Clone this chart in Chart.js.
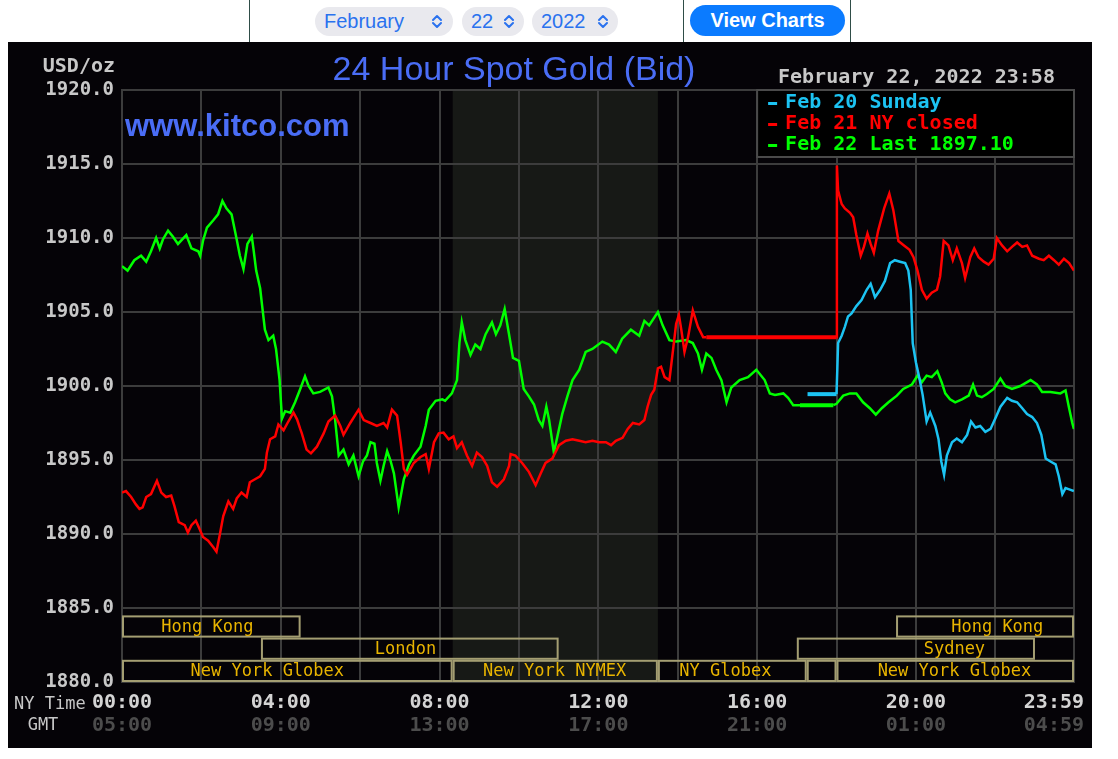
<!DOCTYPE html>
<html>
<head>
<meta charset="utf-8">
<script src="https://cdn.jsdelivr.net/npm/chart.js@4.4.1/dist/chart.umd.min.js"></script>
<style>
  body { margin: 0; background: #fff; width: 1118px; height: 759px; position: relative; overflow: hidden;
         font-family: 'Liberation Sans', Arial, sans-serif; }
  .frame { position: absolute; left: 249px; top: 0; width: 600px; height: 42px;
           border-left: 1px solid #2f4d47; border-right: 1px solid #2f4d47; }
  .divider { position: absolute; left: 683px; top: 0; width: 1px; height: 42px; background: #2f4d47; }
  .pill { position: absolute; top: 7px; height: 29px; border-radius: 15px; background: #e9e9ee;
          color: #2a72ee; font-size: 20px; line-height: 29px; }
  .pill span { position: absolute; left: 9px; top: 0; }
  .pill svg { position: absolute; top: 7px; }
  .btn { position: absolute; left: 690px; top: 5px; width: 155px; height: 31px; border-radius: 16px;
         background: #0b7bff; color: #fff; font-weight: bold; font-size: 20px; line-height: 31px; text-align: center; }
  #wrap { position: absolute; left: 8px; top: 42px; width: 1084px; height: 706px; background: #050307; }
</style>
</head>
<body>
<div class="frame"></div>
<div class="divider"></div>
<div class="pill" style="left:315px;width:138px"><span>February</span>
  <svg style="left:116px" width="12" height="15" viewBox="0 0 12 15"><polyline points="2,6 6,2 10,6" fill="none" stroke="#2a72ee" stroke-width="2" stroke-linecap="round" stroke-linejoin="round"/><polyline points="2,9 6,13 10,9" fill="none" stroke="#2a72ee" stroke-width="2" stroke-linecap="round" stroke-linejoin="round"/></svg></div>
<div class="pill" style="left:462px;width:62px"><span>22</span>
  <svg style="left:41px" width="12" height="15" viewBox="0 0 12 15"><polyline points="2,6 6,2 10,6" fill="none" stroke="#2a72ee" stroke-width="2" stroke-linecap="round" stroke-linejoin="round"/><polyline points="2,9 6,13 10,9" fill="none" stroke="#2a72ee" stroke-width="2" stroke-linecap="round" stroke-linejoin="round"/></svg></div>
<div class="pill" style="left:532px;width:86px"><span>2022</span>
  <svg style="left:65px" width="12" height="15" viewBox="0 0 12 15"><polyline points="2,6 6,2 10,6" fill="none" stroke="#2a72ee" stroke-width="2" stroke-linecap="round" stroke-linejoin="round"/><polyline points="2,9 6,13 10,9" fill="none" stroke="#2a72ee" stroke-width="2" stroke-linecap="round" stroke-linejoin="round"/></svg></div>
<div class="btn">View Charts</div>

<div id="wrap"><canvas id="chart" width="1084" height="706"></canvas></div>

<script>
// hours after midnight NY time -> bid price
const feb22Hours = [0, 0.14, 0.31, 0.48, 0.61, 0.73, 0.86, 0.95, 1.03, 1.16, 1.28, 1.41, 1.62, 1.75, 1.92, 1.97,
  2.04, 2.14, 2.30, 2.42, 2.53, 2.63, 2.76, 2.89, 2.97, 3.06, 3.16, 3.27, 3.31, 3.38, 3.48, 3.54, 3.60, 3.69, 3.81,
  3.88, 3.97, 4.03, 4.11, 4.24, 4.36, 4.49, 4.61, 4.70, 4.82, 4.99, 5.20, 5.29, 5.37, 5.46, 5.58, 5.71, 5.83, 5.96,
  6.07, 6.17, 6.26, 6.36, 6.42, 6.51, 6.59, 6.68, 6.76, 6.85, 6.97, 7.10, 7.23, 7.35, 7.52, 7.65, 7.73, 7.90, 8.07,
  8.14, 8.31, 8.44, 8.50, 8.56, 8.65, 8.78, 8.90, 9.03, 9.16, 9.32, 9.42, 9.53, 9.64, 9.75, 9.85, 10.0, 10.12, 10.25,
  10.38, 10.5, 10.59, 10.69, 10.76, 10.88, 10.97, 11.09, 11.22, 11.35, 11.52, 11.68, 11.85, 12.1, 12.27, 12.44, 12.6,
  12.82, 13.03, 13.16, 13.28, 13.5, 13.62, 13.79, 13.96, 14.21, 14.38, 14.51, 14.61, 14.72, 14.85, 14.97, 15.1, 15.23,
  15.35, 15.56, 15.77, 15.98, 16.19, 16.32, 16.45, 16.66, 16.78, 16.91, 17.08, 17.92, 18.0, 18.17, 18.34, 18.5, 18.67,
  18.84, 18.99, 19.14, 19.31, 19.52, 19.68, 19.9, 20.04, 20.15, 20.27, 20.4, 20.54, 20.65, 20.74, 20.86, 20.99, 21.16,
  21.33, 21.44, 21.54, 21.66, 21.79, 21.96, 22.13, 22.25, 22.42, 22.63, 22.89, 23.05, 23.18, 23.39, 23.64, 23.77,
  23.86, 23.94, 23.98];
const feb22Bid = [1908.1, 1907.8, 1908.5, 1908.8, 1908.4, 1909.1, 1910.0, 1909.3, 1909.9, 1910.5, 1910.1, 1909.6,
  1910.2, 1909.3, 1909.1, 1908.8, 1909.8, 1910.7, 1911.2, 1911.6, 1912.5, 1912.0, 1911.6, 1909.9, 1908.8, 1907.9,
  1909.6, 1910.1, 1909.3, 1907.8, 1906.6, 1905.2, 1903.8, 1903.1, 1903.4, 1902.5, 1900.4, 1897.8, 1898.3, 1898.2,
  1898.9, 1899.8, 1900.65, 1900.0, 1899.5, 1899.6, 1899.9, 1899.3, 1897.7, 1895.3, 1895.7, 1894.7, 1895.3, 1893.9,
  1894.9, 1895.3, 1896.2, 1896.1, 1894.8, 1893.6, 1894.6, 1895.6, 1895.0, 1894.1, 1891.8, 1893.7, 1894.7, 1895.3,
  1895.9, 1897.3, 1898.4, 1899.0, 1899.1, 1899.0, 1899.5, 1900.4, 1902.9, 1904.3, 1903.1, 1902.1, 1902.8, 1902.5,
  1903.5, 1904.3, 1903.5, 1904.1, 1905.2, 1903.5, 1901.9, 1901.7, 1899.8, 1899.3, 1898.75, 1897.7, 1897.3, 1898.6,
  1897.7, 1895.5, 1896.6, 1898.1, 1899.3, 1900.4, 1901.1, 1902.3, 1902.5, 1903.0, 1902.8, 1902.3, 1903.2, 1903.8,
  1903.4, 1904.4, 1904.1, 1905.0, 1904.1, 1903.1, 1903.0, 1903.1, 1902.9, 1902.2, 1901.1, 1902.2, 1901.9, 1901.1,
  1900.4, 1898.9, 1899.9, 1900.4, 1900.6, 1901.1, 1900.4, 1899.5, 1899.4, 1899.5, 1899.2, 1898.7, 1898.7, 1898.7,
  1898.8, 1899.35, 1899.5, 1899.5, 1898.9, 1898.5, 1898.06, 1898.5, 1898.9, 1899.35, 1899.8, 1900.1, 1900.7, 1900.25,
  1900.7, 1900.6, 1901.0, 1900.25, 1899.5, 1899.1, 1898.9, 1899.1, 1899.35, 1900.1, 1899.35, 1899.24, 1899.46, 1899.8,
  1900.5, 1900.0, 1899.8, 1900.0, 1900.4, 1900.1, 1899.6, 1899.6, 1899.5, 1899.7, 1898.5, 1897.5, 1897.1];

const feb21Hours = [0, 0.1, 0.23, 0.35, 0.44, 0.52, 0.61, 0.73, 0.88, 0.99, 1.11, 1.24, 1.32, 1.43, 1.58, 1.66, 1.75,
  1.86, 1.96, 2.04, 2.17, 2.30, 2.38, 2.46, 2.55, 2.68, 2.80, 2.89, 3.01, 3.14, 3.22, 3.35, 3.48, 3.60, 3.65, 3.73,
  3.86, 3.94, 4.07, 4.19, 4.32, 4.41, 4.49, 4.53, 4.65, 4.76, 4.91, 5.08, 5.20, 5.37, 5.50, 5.58, 5.75, 5.96, 6.09,
  6.26, 6.42, 6.59, 6.68, 6.80, 6.93, 7.02, 7.10, 7.18, 7.35, 7.52, 7.65, 7.73, 7.86, 7.98, 8.10, 8.23, 8.35, 8.44,
  8.56, 8.69, 8.82, 8.94, 9.07, 9.20, 9.32, 9.45, 9.62, 9.75, 9.79, 9.91, 10.08, 10.25, 10.42, 10.55, 10.67, 10.84,
  11.01, 11.18, 11.35, 11.52, 11.68, 11.85, 12.02, 12.19, 12.32, 12.44, 12.61, 12.74, 12.87, 13.03, 13.16, 13.24,
  13.33, 13.41, 13.50, 13.58, 13.67, 13.79, 13.88, 13.96, 14.03, 14.09, 14.17, 14.26, 14.38, 14.51, 14.64, 14.72,
  18.0, 18.01, 18.04, 18.13, 18.21, 18.34, 18.42, 18.5, 18.61, 18.69, 18.78, 18.86, 18.94, 19.05, 19.2, 19.33, 19.43,
  19.56, 19.7, 19.84, 19.94, 20.04, 20.15, 20.27, 20.4, 20.53, 20.61, 20.7, 20.82, 20.93, 21.03, 21.16, 21.24, 21.37,
  21.47, 21.58, 21.71, 21.83, 21.96, 22.04, 22.17, 22.3, 22.42, 22.55, 22.68, 22.8, 22.93, 23.1, 23.22, 23.35, 23.48,
  23.6, 23.73, 23.86, 23.98];
const feb21Bid = [1892.8, 1892.9, 1892.5, 1892.0, 1891.7, 1891.8, 1892.5, 1892.7, 1893.6, 1892.8, 1892.5, 1892.6,
  1891.9, 1890.8, 1890.6, 1890.1, 1890.6, 1890.9, 1890.3, 1889.8, 1889.55, 1889.1, 1888.8, 1889.9, 1891.2, 1892.2,
  1891.7, 1892.4, 1892.8, 1892.5, 1893.5, 1893.7, 1893.9, 1894.4, 1895.5, 1896.4, 1896.6, 1897.4, 1897.0, 1897.6,
  1898.2, 1897.75, 1897.1, 1896.8, 1895.7, 1895.45, 1895.9, 1896.8, 1897.6, 1898.0, 1897.3, 1896.7, 1897.5, 1898.4,
  1897.7, 1897.5, 1897.3, 1897.5, 1897.2, 1898.4, 1898.0, 1896.2, 1894.4, 1894.0, 1894.8, 1895.2, 1895.4, 1894.4,
  1896.2, 1896.8, 1896.85, 1896.4, 1896.6, 1895.8, 1896.2, 1895.3, 1894.6, 1895.5, 1895.2, 1894.6, 1893.5, 1893.2,
  1893.7, 1894.6, 1895.4, 1895.3, 1894.8, 1894.2, 1893.3, 1894.1, 1894.8, 1895.1, 1896.0, 1896.3, 1896.4, 1896.3,
  1896.2, 1896.3, 1896.2, 1896.2, 1896.0, 1896.3, 1896.5, 1897.1, 1897.5, 1897.4, 1897.7, 1898.6, 1899.4, 1899.75,
  1901.2, 1901.3, 1900.6, 1900.4, 1902.4, 1904.2, 1904.8, 1903.8, 1902.3, 1903.3, 1905.1, 1904.0, 1903.3, 1903.3,
  1903.3, 1914.9, 1913.2, 1912.3, 1912.0, 1911.7, 1911.4, 1910.2, 1908.8, 1909.4, 1910.3, 1909.6, 1909.0, 1910.5,
  1912.0, 1913.0, 1911.9, 1909.8, 1909.5, 1909.2, 1908.7, 1907.8, 1906.5, 1905.9, 1906.3, 1906.5, 1907.4, 1909.8,
  1909.5, 1908.5, 1909.3, 1908.3, 1907.3, 1908.7, 1909.3, 1908.7, 1908.4, 1908.2, 1908.6, 1910.0, 1909.5, 1909.1,
  1909.4, 1909.7, 1909.4, 1909.5, 1908.8, 1908.6, 1908.5, 1908.8, 1908.5, 1908.2, 1908.6, 1908.3, 1907.8];

const feb20Hours = [17.27, 18.0, 18.02, 18.04, 18.13, 18.21, 18.29, 18.38, 18.5, 18.63, 18.76, 18.86, 18.97, 19.1,
  19.22, 19.35, 19.47, 19.6, 19.73, 19.81, 19.87, 19.92, 20.0, 20.09, 20.17, 20.27, 20.36, 20.49, 20.57, 20.64, 20.71,
  20.78, 20.91, 21.03, 21.16, 21.29, 21.39, 21.5, 21.62, 21.75, 21.88, 22.0, 22.13, 22.3, 22.42, 22.55, 22.68, 22.8,
  22.93, 23.05, 23.16, 23.27, 23.39, 23.52, 23.6, 23.69, 23.77, 23.88, 23.98];
const feb20Bid = [1899.45, 1899.45, 1901.1, 1902.9, 1903.4, 1904.0, 1904.7, 1904.9, 1905.4, 1905.8, 1906.5, 1906.9,
  1906.0, 1906.5, 1907.1, 1908.3, 1908.5, 1908.4, 1908.3, 1907.8, 1906.5, 1902.9, 1901.6, 1900.5, 1899.4, 1897.6,
  1898.2, 1897.3, 1896.4, 1894.9, 1894.0, 1895.3, 1896.2, 1896.45, 1896.2, 1896.7, 1897.6, 1897.2, 1897.3, 1896.9,
  1897.1, 1897.8, 1898.6, 1899.2, 1899.0, 1898.9, 1898.5, 1898.1, 1897.9, 1897.5, 1896.7, 1895.1, 1894.9, 1894.7,
  1893.9, 1892.7, 1893.1, 1893.0, 1892.9];

const seriesLabels = ['Feb 20 Sunday', 'Feb 21 NY closed', 'Feb 22 Last 1897.10'];
const seriesColors = ['#1cc3f2', '#ff0000', '#00ff00'];

const yTicks = [1880, 1885, 1890, 1895, 1900, 1905, 1910, 1915, 1920];
const gridHours = [0, 2, 4, 6, 8, 10, 12, 14, 16, 18, 20, 22, 23.983];
const labelHours = [0, 4, 8, 12, 16, 20, 23.983];
const nyLabels = ['00:00', '04:00', '08:00', '12:00', '16:00', '20:00', '23:59'];
const gmtLabels = ['05:00', '09:00', '13:00', '17:00', '21:00', '01:00', '04:59'];

// trading sessions drawn as boxes under the lines
const sessionNames = ['Hong Kong', 'Hong Kong', 'London', 'Sydney', 'New York Globex', 'New York NYMEX', 'NY Globex', '', 'New York Globex'];
const sessionRows = [0, 0, 1, 1, 2, 2, 2, 2, 2];
const sessionStart = [0, 19.5, 3.5, 17.0, 0, 8.33, 13.5, 17.25, 18.0];
const sessionEnd = [4.5, 23.983, 11.0, 23.0, 8.33, 13.5, 17.25, 18.0, 23.983];
const sessionLabelAt = [2.15, 22.05, 7.14, 20.97, 3.66, 10.9, 15.2, 0, 20.97];
const rowTops = [1884.5, 1883.0, 1881.5];
const nymexHours = [8.33, 13.5];

const toPoints = (hs, vs) => hs.map((h, i) => ({ x: h, y: vs[i] }));
const mono = '"DejaVu Sans Mono", "Liberation Mono", monospace';

const decor = {
  id: 'decor',
  beforeDraw(chart) {
    const { ctx, chartArea: a, scales: { x } } = chart;
    ctx.save();
    ctx.fillStyle = '#050307';
    ctx.fillRect(0, 0, chart.width, chart.height);
    ctx.fillStyle = '#171916';
    const l = x.getPixelForValue(nymexHours[0]), r = x.getPixelForValue(nymexHours[1]);
    ctx.fillRect(l, a.top, r - l, a.bottom - a.top);
    ctx.restore();
  },
  afterDatasetsDraw(chart) {
    const { ctx, scales: { x, y } } = chart;
    ctx.save();
    ctx.strokeStyle = '#a49e72';
    ctx.lineWidth = 2;
    ctx.font = '17px ' + mono;
    ctx.fillStyle = '#e8b400';
    ctx.textAlign = 'center';
    ctx.textBaseline = 'middle';
    sessionNames.forEach((name, i) => {
      const t = y.getPixelForValue(rowTops[sessionRows[i]]);
      const b = y.getPixelForValue(rowTops[sessionRows[i]] - 1.5);
      const l = x.getPixelForValue(sessionStart[i]);
      const r = x.getPixelForValue(sessionEnd[i]);
      ctx.strokeRect(l + 1, t + 1, r - l - 2, b - t - 2);
      if (name) ctx.fillText(name, x.getPixelForValue(sessionLabelAt[i]), (t + b) / 2 + 1);
    });
    ctx.restore();
  },
  afterDraw(chart) {
    const { ctx, chartArea: a, scales: { x } } = chart;
    ctx.save();
    ctx.textBaseline = 'middle';

    // title + watermark
    ctx.fillStyle = '#4a6df5';
    ctx.font = '34px "Liberation Sans", Arial, sans-serif';
    ctx.textAlign = 'center';
    ctx.fillText('24 Hour Spot Gold (Bid)', 506, 29);
    ctx.font = 'bold 31px "Liberation Sans", Arial, sans-serif';
    ctx.textAlign = 'left';
    ctx.fillText('www.kitco.com', 117, 85);

    // date + units
    ctx.fillStyle = '#c8c8c8';
    ctx.font = 'bold 20px ' + mono;
    ctx.fillText('February 22, 2022 23:58', 770, 36);
    ctx.textAlign = 'right';
    ctx.fillText('USD/oz', 107, 25);

    // legend box
    const lx = x.getPixelForValue(16);
    ctx.fillStyle = '#000';
    ctx.fillRect(lx, a.top, a.right - lx, 67);
    ctx.strokeStyle = '#4a4a4a';
    ctx.lineWidth = 2;
    ctx.strokeRect(lx, a.top, a.right - lx, 67);
    ctx.textAlign = 'left';
    ctx.font = 'bold 20px ' + mono;
    chart.data.datasets.forEach((ds, i) => {
      const ly = a.top + 13 + i * 21;
      ctx.fillStyle = ds.borderColor;
      ctx.fillRect(lx + 11, ly - 1, 9, 3);
      ctx.fillText(ds.label, lx + 28, ly);
    });

    // time axis labels
    ctx.font = 'bold 20px ' + mono;
    labelHours.forEach((h, i) => {
      const last = i === labelHours.length - 1;
      const px = last ? a.right + 10 : x.getPixelForValue(h);
      ctx.textAlign = last ? 'right' : 'center';
      ctx.fillStyle = '#d4d4d4';
      ctx.fillText(nyLabels[i], px, 661);
      ctx.fillStyle = '#4c4c4c';
      ctx.fillText(gmtLabels[i], px, 684);
    });
    ctx.font = '17px ' + mono;
    ctx.fillStyle = '#c8c8c8';
    ctx.textAlign = 'left';
    ctx.fillText('NY Time', 6, 663);
    ctx.textAlign = 'center';
    ctx.fillText('GMT', 35, 684);
    ctx.restore();
  }
};

const flatWidth = c => (c.p0.parsed.y === c.p1.parsed.y && c.p1.parsed.x - c.p0.parsed.x > 0.5) ? 4 : 2.5;

new Chart(document.getElementById('chart'), {
  type: 'line',
  data: {
    datasets: [
      { label: seriesLabels[0], data: toPoints(feb20Hours, feb20Bid), borderColor: seriesColors[0], order: 0 },
      { label: seriesLabels[1], data: toPoints(feb21Hours, feb21Bid), borderColor: seriesColors[1], order: 1 },
      { label: seriesLabels[2], data: toPoints(feb22Hours, feb22Bid), borderColor: seriesColors[2], order: 2 }
    ]
  },
  options: {
    responsive: false,
    animation: false,
    layout: { padding: { top: 48, right: 18, left: 0, bottom: 0 } },
    elements: { point: { radius: 0 }, line: { borderWidth: 2.5, tension: 0 } },
    datasets: { line: { segment: { borderWidth: flatWidth } } },
    plugins: { legend: { display: false }, tooltip: { enabled: false } },
    scales: {
      x: {
        type: 'linear', min: 0, max: 23.983,
        afterBuildTicks: s => { s.ticks = gridHours.map(v => ({ value: v })); },
        afterFit: s => { s.height = 66; },
        ticks: { display: false },
        grid: { color: '#3c3c3c', lineWidth: 2, drawTicks: false },
        border: { color: '#3c3c3c', width: 2 }
      },
      y: {
        min: 1880, max: 1920,
        afterBuildTicks: s => { s.ticks = yTicks.map(v => ({ value: v })); },
        afterFit: s => { s.width = 114; },
        ticks: { color: '#c8c8c8', padding: 8, font: { family: mono, size: 19, weight: 'bold' },
                 callback: v => v.toFixed(1) },
        grid: { color: '#3c3c3c', lineWidth: 2, drawTicks: false },
        border: { color: '#3c3c3c', width: 2 }
      }
    }
  },
  plugins: [decor]
});
</script>
</body>
</html>
